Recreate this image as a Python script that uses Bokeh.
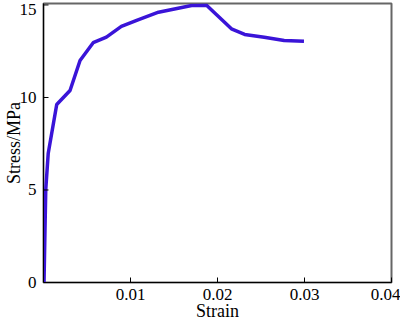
from bokeh.plotting import figure
from bokeh.models import Range1d, FixedTicker
from bokeh.embed import file_html
from bokeh.resources import INLINE

strain = [0.00006, 0.00017, 0.00026, 0.00054, 0.00152, 0.00305, 0.0042, 0.00571,
          0.00723, 0.00895, 0.01086, 0.01322, 0.01703, 0.01874, 0.0216, 0.02312,
          0.02537, 0.02766, 0.02994]
stress = [0.0, 2.81, 5.03, 6.97, 9.62, 10.38, 12.0, 12.96, 13.26, 13.84, 14.2,
          14.61, 14.97, 14.99, 13.71, 13.41, 13.26, 13.08, 13.04]

x_ticks = [0.01, 0.02, 0.03, 0.04]
y_ticks = [0, 5, 10, 15]
# the "15" label sits a little below its tick in the reference
y_label_pos = [0, 5, 10, 14.78]
y_label_text = ["0", "5", "10", "15"]

FONT = "Liberation Serif"

p = figure(width=400, height=324, output_backend="svg", toolbar_location=None,
           x_range=Range1d(0, 0.04), y_range=Range1d(0, 15.08),
           min_border_left=41, min_border_right=9, min_border_top=3, min_border_bottom=42)

p.line(strain, stress, line_color="#3A14D8", line_width=3.5)

# inward y tick marks drawn at the real tick values
p.ray(x=[0] * len(y_ticks), y=y_ticks, length=5, angle=0, length_units="screen",
      line_color="black", line_width=1)

p.xgrid.visible = False
p.ygrid.visible = False
p.outline_line_color = "#666666"
p.outline_line_width = 2
p.background_fill_color = "white"
p.border_fill_color = "white"

for ax in (p.xaxis[0], p.yaxis[0]):
    ax.axis_line_color = "black"
    ax.axis_line_width = 1
    ax.major_tick_in = 5
    ax.major_tick_out = 0
    ax.minor_tick_line_color = None
    ax.major_label_text_font = FONT
    ax.major_label_text_font_size = "17px"
    ax.major_label_text_color = "black"
    ax.major_label_text_line_height = 1.0
    ax.axis_label_text_font = FONT
    ax.axis_label_text_font_size = "18px"
    ax.axis_label_text_font_style = "normal"
    ax.axis_label_text_color = "black"
    ax.axis_label_text_line_height = 0.7

p.xaxis[0].ticker = FixedTicker(ticks=x_ticks)
p.yaxis[0].ticker = FixedTicker(ticks=y_label_pos)
p.yaxis[0].major_label_overrides = dict(zip(y_label_pos, y_label_text))
p.yaxis[0].major_tick_line_color = None
p.xaxis[0].axis_label = "Strain"
p.yaxis[0].axis_label = "Stress/MPa"
p.xaxis[0].major_label_standoff = 6
p.xaxis[0].axis_label_standoff = -2
p.yaxis[0].major_label_standoff = 7
p.yaxis[0].axis_label_standoff = -7

open("out.html", "w").write(file_html(p, INLINE))
